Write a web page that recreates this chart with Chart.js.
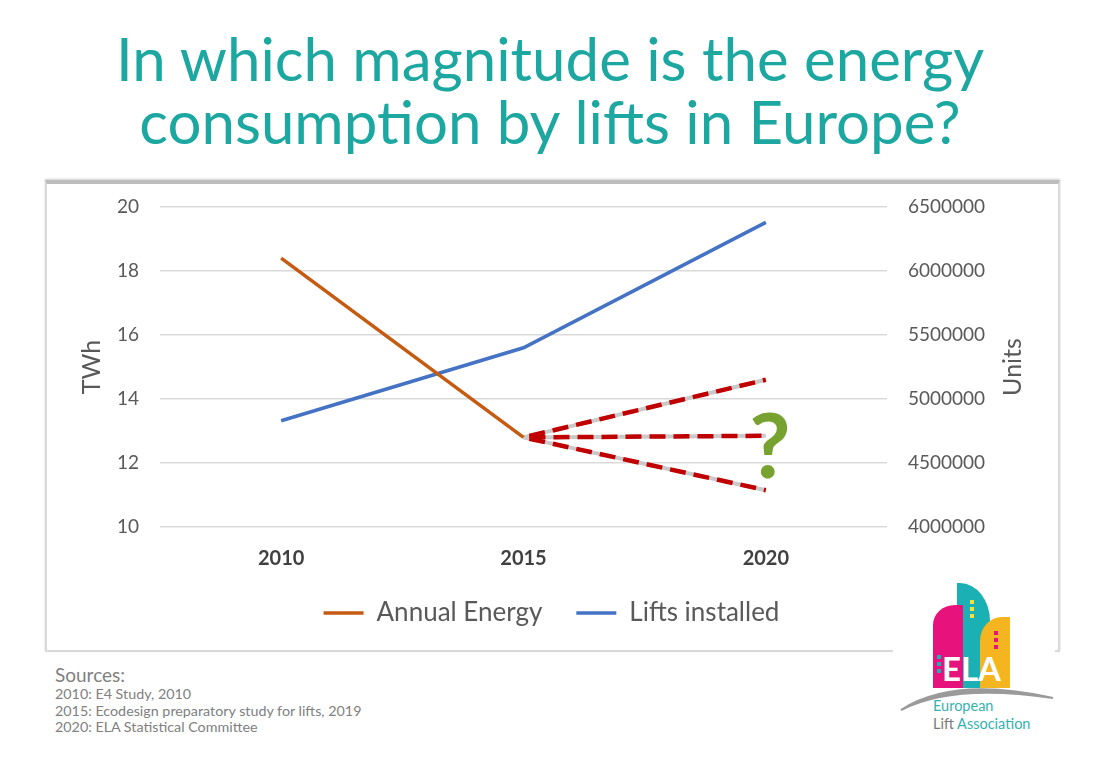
<!DOCTYPE html>
<html>
<head>
<meta charset="utf-8">
<script src="https://cdn.jsdelivr.net/npm/chart.js@4.4.1/dist/chart.umd.min.js"></script>
<style>
  html, body { margin:0; padding:0; background:#fff; }
  body { width:1100px; height:757px; position:relative; overflow:hidden; font-family: Lato, "Open Sans", sans-serif; }
  #title { position:absolute; left:0; top:27px; width:1100px; text-align:center; color:#1ca7a0; font-size:60px; line-height:63px; }
  #frame { position:absolute; left:45px; top:180px; width:1011px; height:466px; border:2px solid #d9d9d9; border-top:4px solid #bdbdbd; box-shadow: 0 -1px 2px #d0d0d0; }
  #chartBox { position:absolute; left:45px; top:180px; width:1013px; height:468px; }
  #sources { position:absolute; left:55px; top:664px; color:#808080; }
  #sources .h { font-size:19px; line-height:22px; }
  #sources .l { font-size:14.3px; line-height:16.5px; }
  #logo { position:absolute; left:893px; top:576px; width:162px; height:181px; background:#fff; }
  .b { position:absolute; }
  .dot { position:absolute; width:4px; height:4px; }
</style>
</head>
<body>
<div id="title">In which magnitude is the energy<br>consumption by lifts in Europe?</div>
<div id="frame"></div>
<div id="chartBox"><canvas id="c"></canvas></div>
<div id="sources">
  <div class="h">Sources:</div>
  <div class="l">2010: E4 Study, 2010</div>
  <div class="l">2015: Ecodesign preparatory study for lifts, 2019</div>
  <div class="l">2020: ELA Statistical Committee</div>
</div>
<div id="logo">
  <div class="b" style="left:64px;top:7px;width:33px;height:105px;background:#1bb0b3;border-top-right-radius:30px 38px;"></div>
  <div class="b" style="left:40px;top:29px;width:30px;height:83px;background:#e8127c;border-top-left-radius:22px 20px;"></div>
  <div class="b" style="left:87px;top:41px;width:30px;height:71px;background:#f5b521;border-top-left-radius:22px 24px;"></div>
  <div class="dot" style="left:77px;top:24px;background:#f5e13a"></div>
  <div class="dot" style="left:77px;top:31px;background:#f5e13a"></div>
  <div class="dot" style="left:77px;top:38px;background:#f5e13a"></div>
  <div class="dot" style="left:101px;top:55px;background:#e8127c"></div>
  <div class="dot" style="left:101px;top:62px;background:#e8127c"></div>
  <div class="dot" style="left:101px;top:69px;background:#e8127c"></div>
  <div class="dot" style="left:44px;top:79px;background:#1bb0b3"></div>
  <div class="dot" style="left:44px;top:86px;background:#1bb0b3"></div>
  <div class="dot" style="left:44px;top:93px;background:#1bb0b3"></div>
  <div class="b" style="left:49px;top:74px;color:#fff;font-weight:bold;font-size:33px;line-height:36px;">ELA</div>
  <svg class="b" style="left:0;top:100px" width="162" height="40">
    <path d="M8 34 Q60 0 160 22 Q60 7 8 34 Z" fill="#9a9a9a" stroke="#9a9a9a" stroke-width="2"/>
  </svg>
  <div class="b" style="left:40px;top:122px;font-size:14.5px;line-height:16px;color:#35b2b0;">European</div>
  <div class="b" style="left:40px;top:140px;font-size:14.5px;line-height:16px;color:#35b2b0;"><span style="color:#7a7a7a">Lift</span> Association</div>
</div>
<script>
const years = ['2010', '2015', '2020'];
const annualEnergy = [18.4, 12.8, null];      // TWh
const liftsInstalled = [4830000, 5400000, 6380000]; // units
const scenarioHigh = [null, 12.8, 14.6];
const scenarioFlat = [null, 12.8, 12.85];
const scenarioLow = [null, 12.8, 11.15];
const twhRange = [10, 20, 2];
const unitsRange = [4000000, 6500000, 500000];

const GREY = '#595959';
const FONT = 'Lato, "Open Sans", sans-serif';

function scen(data, dashed) {
  return dashed
    ? { data, yAxisID: 'y', borderColor: '#c00000', borderWidth: 4.5, borderDash: [16, 8], borderDashOffset: -6, pointRadius: 0, order: 3, borderCapStyle: 'butt' }
    : { data, yAxisID: 'y', borderColor: '#c9c9c9', borderWidth: 4, pointRadius: 0, order: 4 };
}

const extras = {
  id: 'extras',
  afterDatasetsDraw(chart) {
    const { ctx, scales } = chart;
    ctx.save();
    ctx.fillStyle = '#78a22f';
    ctx.font = 'bold 90px ' + FONT;
    ctx.textAlign = 'center';
    ctx.textBaseline = 'middle';
    ctx.fillText('?', scales.x.getPixelForValue(2) + 4, scales.y.getPixelForValue(12.45));
    ctx.restore();
  },
  afterDraw(chart) {
    const { ctx, chartArea } = chart;
    ctx.save();
    ctx.fillStyle = GREY;
    ctx.font = '25px ' + FONT;
    ctx.textAlign = 'center';
    ctx.textBaseline = 'middle';
    ctx.translate(chart.width - 45, (chartArea.top + chartArea.bottom) / 2);
    ctx.rotate(-Math.PI / 2);
    ctx.fillText('Units', 0, 0);
    ctx.restore();
  }
};

new Chart(document.getElementById('c'), {
  type: 'line',
  data: {
    labels: years,
    datasets: [
      { label: 'Annual Energy', data: annualEnergy, yAxisID: 'y', borderColor: '#c55a11', backgroundColor: '#c55a11', borderWidth: 3.5, pointRadius: 0, order: 1 },
      { label: 'Lifts installed', data: liftsInstalled, yAxisID: 'y1', borderColor: '#4472c4', backgroundColor: '#4472c4', borderWidth: 3.5, pointRadius: 0, order: 2 },
      scen(scenarioHigh, false), scen(scenarioFlat, false), scen(scenarioLow, false),
      scen(scenarioHigh, true), scen(scenarioFlat, true), scen(scenarioLow, true)
    ]
  },
  options: {
    responsive: true,
    maintainAspectRatio: false,
    animation: false,
    spanGaps: false,
    layout: { padding: { top: 16, bottom: 12, left: 0, right: 0 } },
    plugins: {
      title: { display: false },
      tooltip: { enabled: false },
      legend: {
        position: 'bottom',
        labels: {
          filter: (item, data) => !!data.datasets[item.datasetIndex].label,
          usePointStyle: true,
          pointStyle: 'line',
          pointStyleWidth: 40,
          padding: 34,
          color: GREY,
          font: { family: FONT, size: 26 }
        }
      }
    },
    scales: {
      x: {
        offset: true,
        grid: { display: false, drawTicks: false },
        border: { display: false },
        ticks: { padding: 20, color: '#404040', font: { family: FONT, size: 20, weight: 'bold' } },
        afterFit(s) { s.height = 39; }
      },
      y: {
        position: 'left',
        min: twhRange[0], max: twhRange[1],
        ticks: { stepSize: twhRange[2], padding: 21, color: GREY, font: { family: FONT, size: 19 } },
        grid: { color: '#d9d9d9', lineWidth: 1.5, drawTicks: false },
        border: { display: false },
        title: { display: true, text: 'TWh', color: GREY, font: { family: FONT, size: 25 }, padding: { top: 32, bottom: 0 } },
        afterFit(s) { s.width = 115; s.paddingTop = 27; s.paddingBottom = 12; }
      },
      y1: {
        position: 'right',
        min: unitsRange[0], max: unitsRange[1],
        ticks: { stepSize: unitsRange[2], padding: 21, color: GREY, font: { family: FONT, size: 19 }, callback: v => String(v) },
        grid: { display: false, drawTicks: false },
        border: { display: false },
        afterFit(s) { s.width = 171; s.paddingTop = 27; s.paddingBottom = 12; }
      }
    }
  },
  plugins: [extras]
});
</script>
</body>
</html>
